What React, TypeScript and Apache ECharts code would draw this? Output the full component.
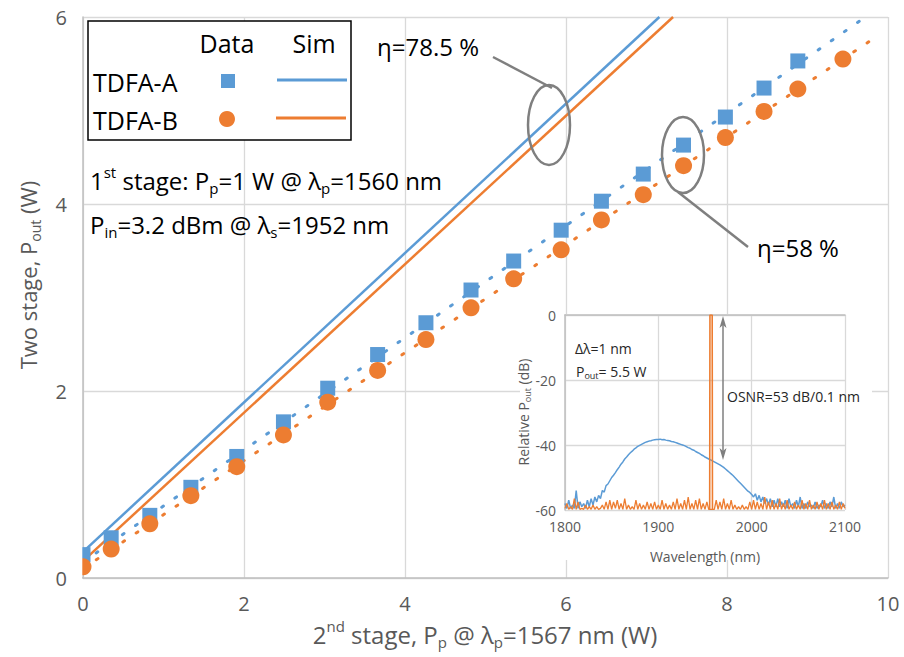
import React, { useEffect, useRef } from "react";
import * as echarts from "echarts";

// ---------- main chart data ----------
const pumpW = [0, 0.35, 0.83, 1.34, 1.91, 2.49, 3.04, 3.66, 4.26, 4.82, 5.35, 5.94, 6.44, 6.96, 7.46, 7.98, 8.46, 8.88, 9.44];
const poutA = [0.25, 0.43, 0.67, 0.97, 1.3, 1.67, 2.03, 2.39, 2.73, 3.08, 3.39, 3.72, 4.03, 4.32, 4.63, 4.93, 5.24, 5.53];
const poutB = [0.12, 0.31, 0.58, 0.88, 1.19, 1.53, 1.88, 2.22, 2.55, 2.89, 3.2, 3.51, 3.83, 4.1, 4.41, 4.71, 4.99, 5.23, 5.55];

const simAx = [0, 7.16];
const simAy = [0.28, 6.0];
const simBx = [0, 7.33];
const simBy = [0.18, 6.0];

const fitAx = [0, 9.72];
const fitAy = [0.17, 6.0];
const fitBx = [0, 9.84];
const fitBy = [0.1, 5.78];

const mainXTicks = { min: 0, max: 10, interval: 2 };
const mainYTicks = { min: 0, max: 6, interval: 2 };

// ---------- inset spectrum data (2 nm sampling from 1800 nm) ----------
const specStart = 1800;
const specStep = 2;
const aseDb = [
  -58, -59.5, -57, -59.5, -58.5, -59.5, -54, -59.5, -57.5, -59,
  -58, -59.5, -57, -59, -56.5, -58.5, -56, -57.5, -55.5, -56.5,
  -54, -54.5, -52.5, -52, -51, -50, -49.3, -48.5, -47.6, -46.8,
  -45.9, -45.2, -44.3, -43.7, -43.0, -42.4, -41.9, -41.3, -40.9, -40.4,
  -40.1, -39.8, -39.5, -39.2, -39.0, -38.8, -38.7, -38.5, -38.4, -38.3,
  -38.3, -38.2, -38.4, -38.3, -38.5, -38.6, -38.7, -38.9, -39.0, -39.2,
  -39.4, -39.6, -39.8, -40.0, -40.2, -40.5, -40.8, -41.0, -41.4, -41.6,
  -42.0, -42.3, -42.6, -43.0, -43.3, -43.7, -44.0, -44.3, -44.6, -44.9,
  -45.2, -45.5, -45.8, -46.1, -46.5, -46.9, -47.4, -47.9, -48.4, -48.9,
  -49.4, -50.0, -50.6, -51.2, -51.8, -52.4, -53.0, -53.6, -54.2, -54.6,
  -55.2, -56.0, -55.0, -57.0, -55.5, -57.5, -56.0, -58.0, -56.5, -58.5,
  -56.5, -59.0, -57.0, -59.0, -56.5, -59.0, -57.5, -59.0, -57.0, -59.5,
  -56.5, -59.0, -58.0, -59.5, -57.0, -59.0, -56.0, -59.5, -58.0, -59.5,
  -57.5, -59.0, -58.5, -59.5, -57.5, -59.5, -58.5, -59.0, -57.0, -59.5,
  -58.0, -59.5, -57.5, -59.0, -56.0, -59.5, -58.0, -59.5, -57.5, -59.0,
  -58.5,
];
const sigNoiseDb = [
  -59.5, -58, -59.8, -59, -59.8, -56.5, -59.8, -57.5, -59.8, -59.5,
  -59.8, -58.5, -59.8, -59, -59.8, -58.5, -59.8, -59, -59.8, -59.5,
  -58.5, -59.8, -57.5, -59.8, -57, -59.8, -57.5, -59.5, -57, -59.8,
  -58, -59.8, -56.5, -59.8, -58.5, -59.8, -59, -59.8, -57, -59.8,
  -58, -59.8, -58.5, -59.8, -57.5, -59.8, -58, -59.8, -57.5, -59.8,
  -58.5, -59.8, -57, -59.8, -58, -59.8, -58.5, -59.8, -57.5, -59.8,
  -56.5, -59.8, -58, -59.8, -57, -59.8, -56, -59.8, -58, -59.8,
  -57, -59.8, -56.5, -59.8, -58, -59.8, -57.5, -59.8, -59.8, -59.8,
  -59.8, -57, -59.8, -57.5, -59.8, -56.5, -59.8, -58, -59.8, -57,
  -59.8, -58.5, -59.8, -59, -59.8, -58.5, -59.8, -59, -59.8, -57.5,
  -59.8, -57, -59.8, -57.5, -59.8, -58, -59.8, -56, -59.8, -57.5,
  -59.8, -57, -59.8, -58, -59.8, -56.5, -59.8, -58, -59.8, -57,
  -59.8, -58.5, -59.8, -57.5, -59.8, -58.5, -59.8, -57, -59.8, -58,
  -59.8, -57, -59.8, -58.5, -59.8, -57.5, -59.8, -58, -59.8, -57,
  -59.8, -58, -59.8, -57.5, -59.8, -58.5, -59.8, -57.5, -59.8, -58,
  -59.5,
];
const signalNm = [1955, 1955.3, 1957.7, 1958];
const signalDb = [-59.8, 0, 0, -59.8];

const insetXTicks = { min: 1800, max: 2100, interval: 100 };
const insetYTicks = { min: -60, max: 0, interval: 20 };

// ---------- styling ----------
const FONT = "'Open Sans', sans-serif";
const BLUE = "#5b9bd5";
const ORANGE = "#ed7d31";
const TICK = "#595959";
const CALLOUT = "#7f7f7f";

function pairs(xs: number[], ys: number[]) {
  return ys.map((y, i) => [xs[i], y]);
}
function spectrum(vals: number[]) {
  return vals.map((v, i) => [specStart + i * specStep, v]);
}

function txt(text: string, x: number, y: number, size: number, color: string, opts: any = {}) {
  const small = Math.round(size * 0.62);
  return {
    type: "text",
    x,
    y,
    z: 20,
    rotation: opts.rotation || 0,
    style: {
      text,
      fontSize: size,
      fontFamily: FONT,
      fill: color,
      align: opts.align || "left",
      verticalAlign: "middle",
      lineHeight: Math.round(size * 1.3),
      rich: {
        sub: { fontSize: small, fontFamily: FONT, fill: color, verticalAlign: "bottom", lineHeight: small },
        sup: { fontSize: small, fontFamily: FONT, fill: color, verticalAlign: "top", lineHeight: small },
      },
    },
  };
}

export default function App() {
  const ref = useRef<HTMLDivElement>(null);
  useEffect(() => {
    if (!ref.current) return;
    const chart = echarts.init(ref.current, null, { renderer: "svg" });
    const axisLine = { show: true, lineStyle: { color: "#bfbfbf", width: 1.5 } };
    const split = { show: true, lineStyle: { color: "#d9d9d9", width: 1.3 } };
    const plain = (v: number) => String(v);
    const option: any = {
      animation: false,
      backgroundColor: "#ffffff",
      grid: [
        { left: 83, top: 17, width: 805, height: 561 },
        { left: 565, top: 315, width: 280, height: 195 },
      ],
      xAxis: [
        {
          type: "value", gridIndex: 0, ...mainXTicks, z: 0,
          axisLine, axisTick: { show: false }, splitLine: split,
          axisLabel: { color: TICK, fontSize: 20, fontFamily: FONT, margin: 15, formatter: plain },
        },
        {
          type: "value", gridIndex: 1, ...insetXTicks, z: 3,
          axisLine, axisTick: { show: false }, splitLine: split,
          axisLabel: { color: TICK, fontSize: 14, fontFamily: FONT, margin: 9, formatter: plain },
        },
      ],
      yAxis: [
        {
          type: "value", gridIndex: 0, ...mainYTicks, z: 0,
          axisLine, axisTick: { show: false }, splitLine: split,
          axisLabel: { color: TICK, fontSize: 20, fontFamily: FONT, margin: 16, formatter: plain },
        },
        {
          type: "value", gridIndex: 1, ...insetYTicks, z: 3,
          axisLine, axisTick: { show: false }, splitLine: split,
          axisLabel: { color: TICK, fontSize: 14, fontFamily: FONT, margin: 9, formatter: plain },
        },
      ],
      series: [
        {
          name: "Sim A", type: "line", xAxisIndex: 0, yAxisIndex: 0, z: 2,
          data: pairs(simAx, simAy), symbol: "none", lineStyle: { color: BLUE, width: 2.5 },
        },
        {
          name: "Sim B", type: "line", xAxisIndex: 0, yAxisIndex: 0, z: 2,
          data: pairs(simBx, simBy), symbol: "none", lineStyle: { color: ORANGE, width: 2.5 },
        },
        {
          name: "Fit A", type: "line", xAxisIndex: 0, yAxisIndex: 0, z: 2,
          data: pairs(fitAx, fitAy), symbol: "none",
          lineStyle: { color: BLUE, width: 3, type: [2, 14], cap: "round" },
        },
        {
          name: "Fit B", type: "line", xAxisIndex: 0, yAxisIndex: 0, z: 2,
          data: pairs(fitBx, fitBy), symbol: "none",
          lineStyle: { color: ORANGE, width: 3, type: [2, 14], cap: "round" },
        },
        {
          name: "TDFA-A", type: "scatter", xAxisIndex: 0, yAxisIndex: 0, z: 6,
          data: pairs(pumpW, poutA), symbol: "rect", symbolSize: 15, itemStyle: { color: BLUE, opacity: 1 },
        },
        {
          name: "TDFA-B", type: "scatter", xAxisIndex: 0, yAxisIndex: 0, z: 6,
          data: pairs(pumpW, poutB), symbol: "circle", symbolSize: 17, itemStyle: { color: ORANGE, opacity: 1 },
        },
        {
          name: "ASE", type: "line", xAxisIndex: 1, yAxisIndex: 1, z: 4,
          data: spectrum(aseDb), symbol: "none", lineStyle: { color: BLUE, width: 1.5 },
        },
        {
          name: "Signal floor", type: "line", xAxisIndex: 1, yAxisIndex: 1, z: 5,
          data: spectrum(sigNoiseDb), symbol: "none", lineStyle: { color: ORANGE, width: 1.3 },
        },
        {
          name: "Signal", type: "line", xAxisIndex: 1, yAxisIndex: 1, z: 5,
          data: pairs(signalNm, signalDb), symbol: "none", lineStyle: { color: ORANGE, width: 1.6 },
        },
      ],
      graphic: [
        // white background of the inset
        { type: "rect", z: 1, shape: { x: 520, y: 314, width: 352, height: 246 }, style: { fill: "#ffffff" } },
        // hides the half of the first markers left of the y axis
        { type: "rect", z: 8, shape: { x: 67, y: 520, width: 15.3, height: 57 }, style: { fill: "#ffffff" } },
        // legend box
        { type: "rect", z: 15, shape: { x: 88, y: 21, width: 263, height: 119 }, style: { fill: "#ffffff", stroke: "#000000", lineWidth: 1.5 } },
        txt("Data", 227, 43, 25, "#000", { align: "center" }),
        txt("Sim", 314, 43, 25, "#000", { align: "center" }),
        txt("TDFA-A", 93, 82, 25, "#000"),
        txt("TDFA-B", 93, 120, 25, "#000"),
        { type: "rect", z: 20, shape: { x: 221, y: 74, width: 14, height: 14 }, style: { fill: BLUE } },
        { type: "circle", z: 20, shape: { cx: 227, cy: 119, r: 8 }, style: { fill: ORANGE } },
        { type: "line", z: 20, shape: { x1: 277, y1: 80, x2: 347, y2: 80 }, style: { stroke: BLUE, lineWidth: 3 } },
        { type: "line", z: 20, shape: { x1: 276, y1: 118, x2: 346, y2: 118 }, style: { stroke: ORANGE, lineWidth: 3 } },
        // stage annotations
        txt("1{sup|st} stage: P{sub|p}=1 W @ λ{sub|p}=1560 nm", 90, 180, 24, "#000"),
        txt("P{sub|in}=3.2 dBm @ λ{sub|s}=1952 nm", 90, 224, 24, "#000"),
        // efficiency callouts
        txt("η=78.5 %", 377, 46, 24, "#000"),
        { type: "line", z: 20, shape: { x1: 493, y1: 57, x2: 552, y2: 88 }, style: { stroke: CALLOUT, lineWidth: 2.5 } },
        { type: "ellipse", z: 20, shape: { cx: 549, cy: 125, rx: 21, ry: 40 }, style: { fill: "none", stroke: CALLOUT, lineWidth: 2.5 } },
        txt("η=58 %", 757, 247, 24, "#000"),
        { type: "line", z: 20, shape: { x1: 678, y1: 192, x2: 748, y2: 247 }, style: { stroke: CALLOUT, lineWidth: 2.5 } },
        { type: "ellipse", z: 20, shape: { cx: 683, cy: 155, rx: 21, ry: 38 }, style: { fill: "none", stroke: CALLOUT, lineWidth: 2.5 } },
        // inset annotations
        txt("Δλ=1 nm", 575, 348, 14, "#262626"),
        txt("P{sub|out}= 5.5 W", 576, 371, 14, "#262626"),
        txt("OSNR=53 dB/0.1 nm", 727, 396, 14, "#262626"),
        { type: "line", z: 20, shape: { x1: 723, y1: 322, x2: 723, y2: 454 }, style: { stroke: CALLOUT, lineWidth: 1.5 } },
        { type: "polygon", z: 20, shape: { points: [[723, 316], [719.5, 328], [723, 325], [726.5, 328]] }, style: { fill: CALLOUT } },
        { type: "polygon", z: 20, shape: { points: [[723, 460], [719.5, 448], [723, 451], [726.5, 448]] }, style: { fill: CALLOUT } },
        // axis names
        txt("2{sup|nd} stage, P{sub|p} @ λ{sub|p}=1567 nm (W)", 485, 634, 24, TICK, { align: "center" }),
        txt("Two stage, P{sub|out} (W)", 28, 275, 22, TICK, { align: "center", rotation: Math.PI / 2 }),
        txt("Wavelength (nm)", 705, 556, 14, TICK, { align: "center" }),
        txt("Relative P{sub|out} (dB)", 523, 412, 14, TICK, { align: "center", rotation: Math.PI / 2 }),
      ],
    };
    chart.setOption(option);
    return () => chart.dispose();
  }, []);
  return (
    <div
      ref={ref}
      style={{ position: "fixed", left: 0, top: 0, width: 904, height: 657, background: "#fff" }}
    />
  );
}
